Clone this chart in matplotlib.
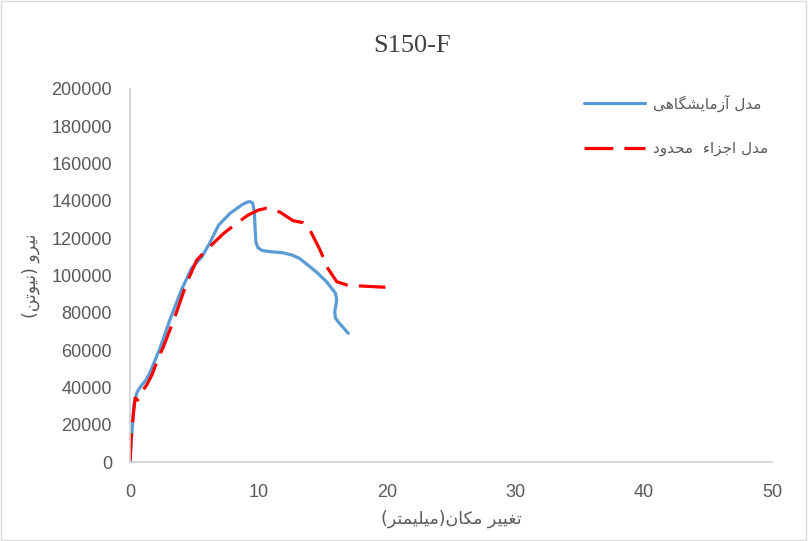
import numpy as np
import matplotlib.pyplot as plt
from matplotlib.patches import Rectangle

# load-displacement curves of specimen S150-F
disp_exp = [0, 0.16, 0.3, 0.55, 0.86, 1.25, 1.56, 2.34, 3.1, 4.0, 4.8, 5.6, 6.2, 6.9, 7.8,
            8.7, 9.1, 9.35, 9.55, 9.68, 9.73, 9.8, 9.95, 10.3, 10.9, 11.9, 12.6, 13.2,
            14.5, 15.3, 16.0, 16.1, 15.95, 16.0, 16.3, 17.0]
force_exp = [0, 17000, 30600, 37500, 40750, 44000, 48000, 61100, 76100, 92200, 104000,
             110000, 117300, 127000, 133400, 137800, 139300, 139600, 138900, 134500,
             127000, 118100, 115000, 113400, 112800, 112200, 111000, 109200, 102000,
             96700, 90500, 86900, 80500, 77200, 74500, 69000]

disp_fem = [0, 0.08, 0.25, 0.4, 0.6, 0.85, 1.3, 1.7, 2.3, 2.6, 3.5, 4.4, 5.2, 6.2, 7.3,
            8.3, 9.2, 10.0, 10.6, 11.2, 11.7, 12.7, 13.5, 13.9, 14.3, 14.8, 15.4, 16.1,
            16.9, 17.9, 19.9]
force_fem = [0, 11800, 25000, 34300, 33200, 37000, 41300, 46600, 57400, 61800, 77900,
             95800, 108300, 115400, 122600, 128000, 132400, 135100, 136000, 135200,
             133900, 129400, 128300, 126000, 120500, 113700, 103900, 96700, 94900,
             94400, 93700]

x_ticks = [0, 10, 20, 30, 40, 50]
y_ticks = [0, 20000, 40000, 60000, 80000, 100000, 120000, 140000, 160000, 180000, 200000]

# presentation forms: isolated, final, initial, medial
FORMS = {
    'ا': ('\uFE8D', '\uFE8E', None, None),
    'آ': ('\uFE81', '\uFE82', None, None),
    'ء': ('\uFE80', None, None, None),
    'ت': ('\uFE95', '\uFE96', '\uFE97', '\uFE98'),
    'ج': ('\uFE9D', '\uFE9E', '\uFE9F', '\uFEA0'),
    'ح': ('\uFEA1', '\uFEA2', '\uFEA3', '\uFEA4'),
    'د': ('\uFEA9', '\uFEAA', None, None),
    'ر': ('\uFEAD', '\uFEAE', None, None),
    'ز': ('\uFEAF', '\uFEB0', None, None),
    'ش': ('\uFEB5', '\uFEB6', '\uFEB7', '\uFEB8'),
    'غ': ('\uFECD', '\uFECE', '\uFECF', '\uFED0'),
    'ل': ('\uFEDD', '\uFEDE', '\uFEDF', '\uFEE0'),
    'م': ('\uFEE1', '\uFEE2', '\uFEE3', '\uFEE4'),
    'ن': ('\uFEE5', '\uFEE6', '\uFEE7', '\uFEE8'),
    'ه': ('\uFEE9', '\uFEEA', '\uFEEB', '\uFEEC'),
    'و': ('\uFEED', '\uFEEE', None, None),
    'ی': ('\uFBFC', '\uFBFD', '\uFBFE', '\uFBFF'),
    'ک': ('\uFB8E', '\uFB8F', '\uFB90', '\uFB91'),
    'گ': ('\uFB92', '\uFB93', '\uFB94', '\uFB95'),
}


def fa(text):
    # shape the letters and put them in visual (left-to-right) order
    out = []
    for i, ch in enumerate(text):
        forms = FORMS.get(ch)
        if forms is None:
            out.append(ch)
            continue
        prev = text[i - 1] if i > 0 else ''
        nxt = text[i + 1] if i < len(text) - 1 else ''
        join_prev = forms[1] is not None and prev in FORMS and FORMS[prev][2] is not None
        join_next = forms[2] is not None and nxt in FORMS and FORMS[nxt][1] is not None
        if join_prev and join_next:
            out.append(forms[3])
        elif join_prev:
            out.append(forms[1])
        elif join_next:
            out.append(forms[2])
        else:
            out.append(forms[0])
    mirror = {'(': ')', ')': '('}
    return ''.join(mirror.get(c, c) for c in reversed(out))


grey = '#595959'
fig = plt.figure(figsize=(8.08, 5.41), dpi=100)
ax = fig.add_axes([0.1609, 0.146, 0.7945, 0.6895])

ax.plot(disp_exp, force_exp, color='#5B9BD5', lw=2.3, solid_joinstyle='round',
        solid_capstyle='round', label=fa('مدل آزمایشگاهی'))
ax.plot(disp_fem, force_fem, color='#FF0000', lw=2.3, dashes=(9, 3.5),
        label=fa('مدل اجزاء  محدود'))

ax.set_xlim(0, 50)
ax.set_ylim(0, 200000)
ax.set_xticks(x_ticks)
ax.set_xticklabels([str(v) for v in x_ticks])
ax.set_yticks(y_ticks)
ax.set_yticklabels([str(v) for v in y_ticks])
ax.tick_params(length=0, labelcolor=grey)
ax.tick_params(axis='y', pad=13)
ax.tick_params(axis='x', pad=16)
for lab in ax.get_xticklabels() + ax.get_yticklabels():
    lab.set_fontfamily('Liberation Sans')
    lab.set_fontsize(13)

for s in ['top', 'right']:
    ax.spines[s].set_visible(False)
for s in ['left', 'bottom']:
    ax.spines[s].set_color('#D0D0D0')
    ax.spines[s].set_linewidth(1.2)

ax.set_xlabel(fa('تغییر مکان(میلیمتر)'), fontfamily='DejaVu Sans', fontsize=12.5,
              color=grey, labelpad=6)
ax.set_ylabel(fa('نیرو (نیوتن)'), fontfamily='DejaVu Sans', fontsize=12.5,
              color=grey, labelpad=8)

fig.text(0.51, 1 - 46 / 541, 'S150-F', ha='center', va='center',
         fontfamily='Liberation Serif', fontsize=19, color='#404040')

ax.legend(loc='upper left', bbox_to_anchor=(0.707, 0.985), frameon=False,
          handlelength=4.0, handletextpad=0.5, labelspacing=1.9, borderpad=0,
          borderaxespad=0, prop={'family': 'DejaVu Sans', 'size': 11},
          labelcolor=grey)

fig.patches.append(Rectangle((0.001, 0.002), 0.997, 0.996, transform=fig.transFigure,
                             fill=False, edgecolor='#D9D9D9', lw=1))

fig.savefig('out.png', dpi=100)
